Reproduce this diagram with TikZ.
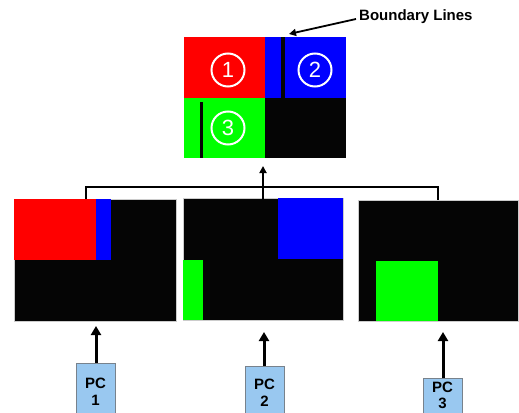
\documentclass[tikz,border=0pt]{standalone}
\usepackage{fontspec}
\setmainfont{Liberation Sans}
\usetikzlibrary{arrows.meta}
\definecolor{pcblue}{RGB}{153,200,240}
\definecolor{pcedge}{RGB}{120,130,140}
\definecolor{nblack}{RGB}{5,5,5}
\tikzset{
  panel/.style={anchor=north west, inner sep=0pt, fill=nblack, draw=gray!40, line width=0.2pt},
  circnum/.style={circle, draw=white, line width=2pt, minimum size=33pt, inner sep=0pt, text=white, font=\fontsize{22}{22}\selectfont},
  pcbox/.style={anchor=north west, inner sep=0pt, fill=pcblue, draw=pcedge, line width=0.6pt, minimum width=39pt},
  pclabel/.style={inner sep=0pt, align=center, font=\bfseries\fontsize{15}{16.5}\selectfont},
  uparrow/.style={line width=3pt, -{Triangle[length=9pt,width=10pt]}},
  bracket/.style={line width=1.8pt},
}
\begin{document}
\begin{tikzpicture}[x=1pt,y=-1pt]
\useasboundingbox (0,0) rectangle (519,412);
% top composite
\node[panel, minimum width=162pt, minimum height=121pt, draw=none] (top) at (184,37) {};
\fill[red] (184,37) rectangle (265,98);
\fill[blue] (265,37) rectangle (346,98);
\fill[green] (184,98) rectangle (265,158);
\fill[nblack] (281,37) rectangle (285,98);
\fill[nblack] (199.5,102) rectangle (202.5,158);
\node[circnum] (c1) at (228,70) {1};
\node[circnum] (c2) at (315,70) {2};
\node[circnum] (c3) at (228,128) {3};
% label
\node[anchor=west, font=\bfseries\fontsize{15}{15}\selectfont, inner sep=0pt] (bl) at (359,17) {Boundary Lines};
\coordinate (blt) at (289,34);
\draw[line width=1.8pt, -{Triangle[length=7pt,width=7pt]}] (bl.west) ++(-3,2) -- (blt);
% bottom panels
\node[panel, minimum width=162pt, minimum height=122pt] (p1) at (14,199) {};
\fill[red] (14.3,199.3) rectangle (96,260);
\fill[blue] (96,199.3) rectangle (111,260);
\node[panel, minimum width=160pt, minimum height=122pt] (p2) at (183,198) {};
\fill[green] (183.3,260) rectangle (203,319.7);
\fill[blue] (278,198.3) rectangle (342.7,259);
\node[panel, minimum width=160pt, minimum height=121pt] (p3) at (358,200) {};
\fill[green] (376,261) rectangle (438,320.7);
% bracket
\coordinate (bkl) at (86,187);
\coordinate (bkr) at (438,187);
\coordinate (bkm) at (263,199);
\coordinate (tip) at (263,166);
\draw[bracket] (p1.north -| bkl) -- (bkl) -- (bkr) -- (p3.north -| bkr);
\draw[line width=1.8pt, -{Triangle[length=7pt,width=7pt]}] (bkm) -- (tip);
% PCs
\node[pcbox, minimum height=50pt] (pc1) at (76,363) {};
\node[pcbox, minimum height=48pt] (pc2) at (245,366) {};
\node[pcbox, minimum height=36pt] (pc3) at (423,378) {};
\node[pclabel] (l1) at (95.5,392) {PC\\1};
\node[pclabel] (l2) at (264.5,393) {PC\\2};
\node[pclabel] (l3) at (442.5,395.5) {PC\\3};
\coordinate (a1) at (96,326);
\coordinate (a2) at (264,332);
\coordinate (a3) at (443,332);
\draw[uparrow] (pc1.north -| a1) -- (a1);
\draw[uparrow] (pc2.north -| a2) -- (a2);
\draw[uparrow] (pc3.north -| a3) -- (a3);
\end{tikzpicture}
\end{document}
